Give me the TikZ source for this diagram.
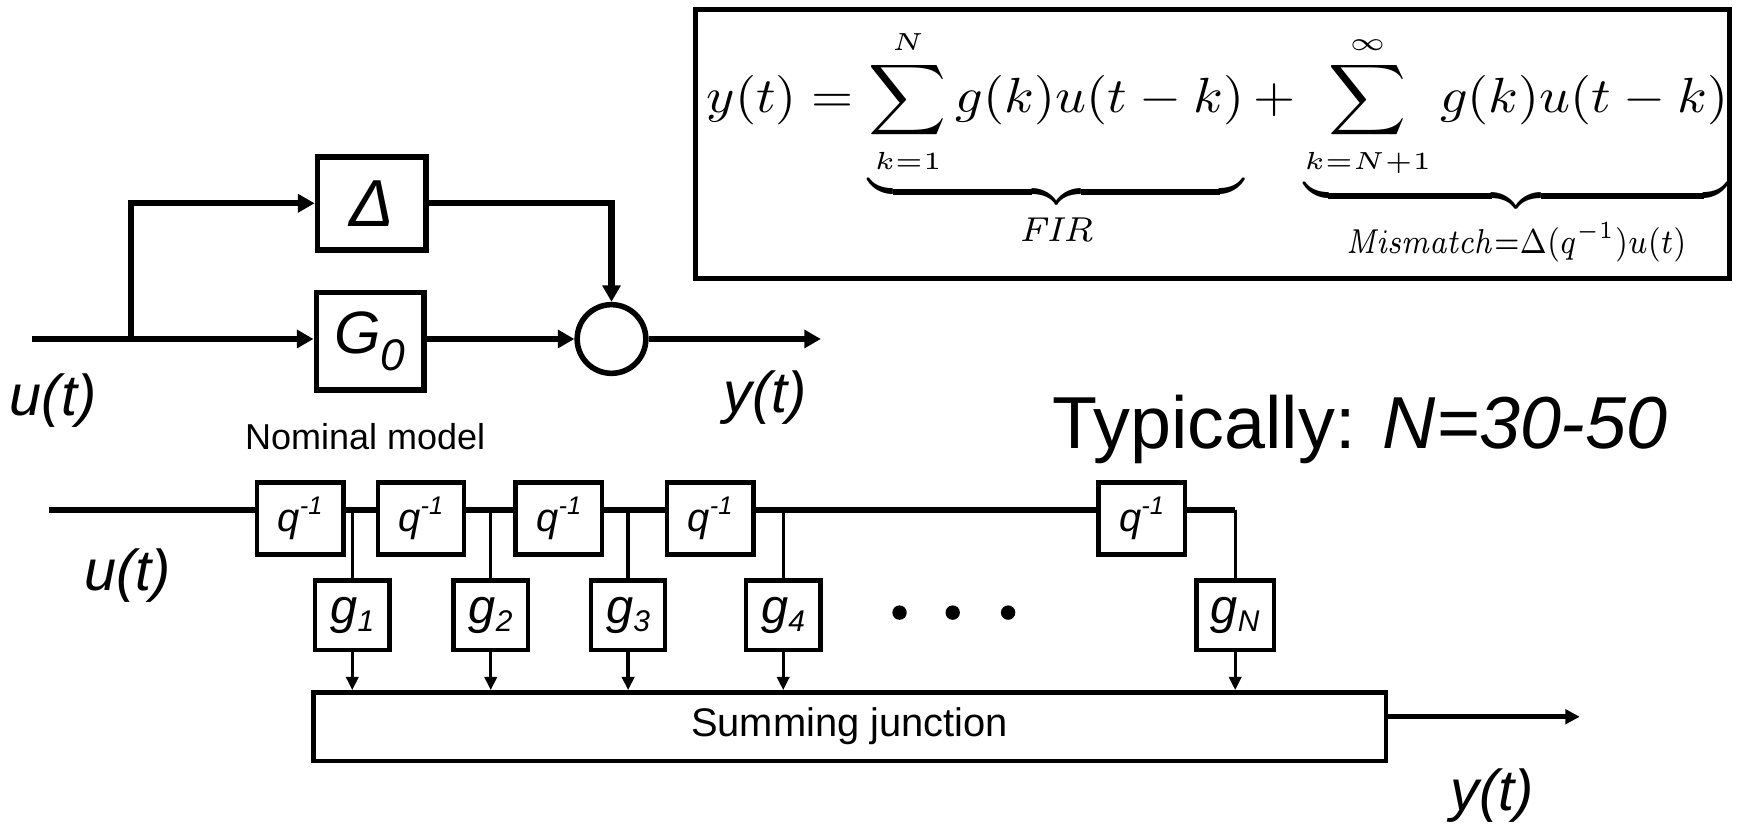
\documentclass[tikz,border=0pt]{standalone}
\usepackage[no-math]{fontspec}
\setmainfont{Liberation Sans}
\usepackage{graphicx}
\usetikzlibrary{arrows.meta}
\DeclareMathSizes{10}{10}{5}{5}
\tikzset{
  blk/.style={draw, line width=5pt, inner sep=0pt},
  dly/.style={draw, line width=4pt, minimum width=78pt, minimum height=65pt, inner sep=0pt, font=\fontsize{36}{40}\selectfont\itshape},
  gain/.style={draw, line width=4pt, minimum width=67pt, minimum height=63pt, inner sep=0pt, font=\fontsize{44}{48}\selectfont\itshape},
  sig/.style={line width=5.5pt},
  bigarr/.style={line width=5.5pt, -{Triangle[length=15pt,width=16pt]}},
  outarr/.style={line width=4.5pt, -{Triangle[length=13pt,width=13pt]}},
  tap/.style={line width=3pt},
  taparr/.style={line width=3pt, -{Triangle[length=12pt,width=11pt]}},
  lbl/.style={font=\fontsize{52}{56}\selectfont\itshape, inner sep=0pt},
}
\newcommand{\qinv}{q\raisebox{0.42em}{\fontsize{23}{25}\selectfont -1}}
\newcommand{\gsub}[1]{g\raisebox{-7pt}{\fontsize{27}{29}\selectfont #1}}
\newcommand{\brlbl}[2]{\mbox{\scalebox{#1}[1]{\fontsize{7}{8}\selectfont$#2$}}}
\begin{document}
\begin{tikzpicture}[x=1pt,y=-1pt]
\useasboundingbox (0,0) rectangle (1568,747);
% ---------- equation box
\node[draw, line width=4.5pt, minimum width=933pt, minimum height=242pt, inner sep=0pt] (eqbox) at (1094.5,130) {};
\node[inner sep=0pt] (eq) at (1099,133.5) {\resizebox*{922pt}{215pt}{\fontsize{10}{12}\selectfont$\displaystyle y(t) = \underbrace{\sum_{k=1}^{N} g(k)u(t-k)}_{\brlbl{0.95}{\mathit{FIR}}} + \underbrace{\sum_{k=N+1}^{\infty} g(k)u(t-k)}_{\brlbl{0.77}{\mathit{Mismatch}{=}\Delta(q^{-1})u(t)}}$}};
% ---------- top diagram
\coordinate (in) at (29,306);
\coordinate (br) at (118,306);
\coordinate (yout) at (741,306);
\node[blk, minimum width=98pt, minimum height=84pt] (D) at (335.5,183.5) {\fontsize{60}{64}\selectfont\itshape Δ};
\node[blk, minimum width=97pt, minimum height=88pt] (G) at (334,308) {\fontsize{54}{58}\selectfont\itshape G\raisebox{-16pt}{\fontsize{40}{44}\selectfont 0}};
\node[draw, circle, line width=5pt, minimum size=62pt, inner sep=0pt] (S) at (552,306) {};
\draw[sig] (in) -- (br);
\draw[bigarr] (br) -- (br -| G.west);
\draw[bigarr] (br) |- (D.west);
\draw[bigarr] (D.east) -| (S.north);
\draw[bigarr] (G.east |- S.west) -- (S.west);
\draw[bigarr] (S.east) -- (yout);
\node[lbl] (u1) at (48,362) {u(t)};
\node[lbl] (y1) at (691,359) {y(t)};
\node[font=\fontsize{32.5}{36}\selectfont, anchor=base west, inner sep=0pt] (nom) at (221,406) {Nominal model};
% ---------- typically
\node[font=\fontsize{66.5}{72}\selectfont, anchor=base west, inner sep=0pt] (typ) at (950,405) {Typically: \textit{N=30-50}};
% ---------- bottom diagram
\coordinate (m) at (0,460);
\coordinate (uin) at (44,460);
\node[dly] (q1) at (271,468) {\qinv};
\node[dly] (q2) at (380,468) {\qinv};
\node[dly] (q3) at (504.5,468) {\qinv};
\node[dly] (q4) at (641,468) {\qinv};
\node[dly] (qN) at (1030.5,468) {\qinv};
\node[gain] (g1) at (318,555.5) {\gsub{1}};
\node[gain] (g2) at (443,555.5) {\gsub{2}};
\node[gain] (g3) at (567,555.5) {\gsub{3}};
\node[gain] (g4) at (707,555.5) {\gsub{4}};
\node[gain, minimum width=70pt] (gN) at (1115,555.5) {\gsub{N}};
\node[draw, line width=4pt, minimum width=968pt, minimum height=62pt, inner sep=0pt] (sum) at (767,656) {};
\node[font=\fontsize{36}{40}\selectfont, inner sep=0pt, anchor=base] (sumt) at (767,665) {Summing junction};
\draw[sig] (uin) -- (uin -| q1.west);
\draw[sig] (q1.east |- m) -- (q2.west |- m);
\draw[sig] (q2.east |- m) -- (q3.west |- m);
\draw[sig] (q3.east |- m) -- (q4.west |- m);
\draw[sig] (q4.east |- m) -- (qN.west |- m);
\draw[sig] (qN.east |- m) -- (gN.north |- m);
\foreach \g in {g1,g2,g3,g4,gN}{
  \draw[tap] (\g.north |- m) -- (\g.north);
  \draw[taparr] (\g.south) -- (\g.south |- sum.north);
}
\fill (812,553) circle (6.5pt) (860,553) circle (6.5pt) (910,553) circle (6.5pt);
\coordinate (yo2) at (1426,647);
\draw[outarr] (sum.east |- yo2) -- (yo2);
\node[lbl] (u2) at (115,520) {u(t)};
\node[lbl] (y2) at (1347,718) {y(t)};
\end{tikzpicture}
\end{document}
